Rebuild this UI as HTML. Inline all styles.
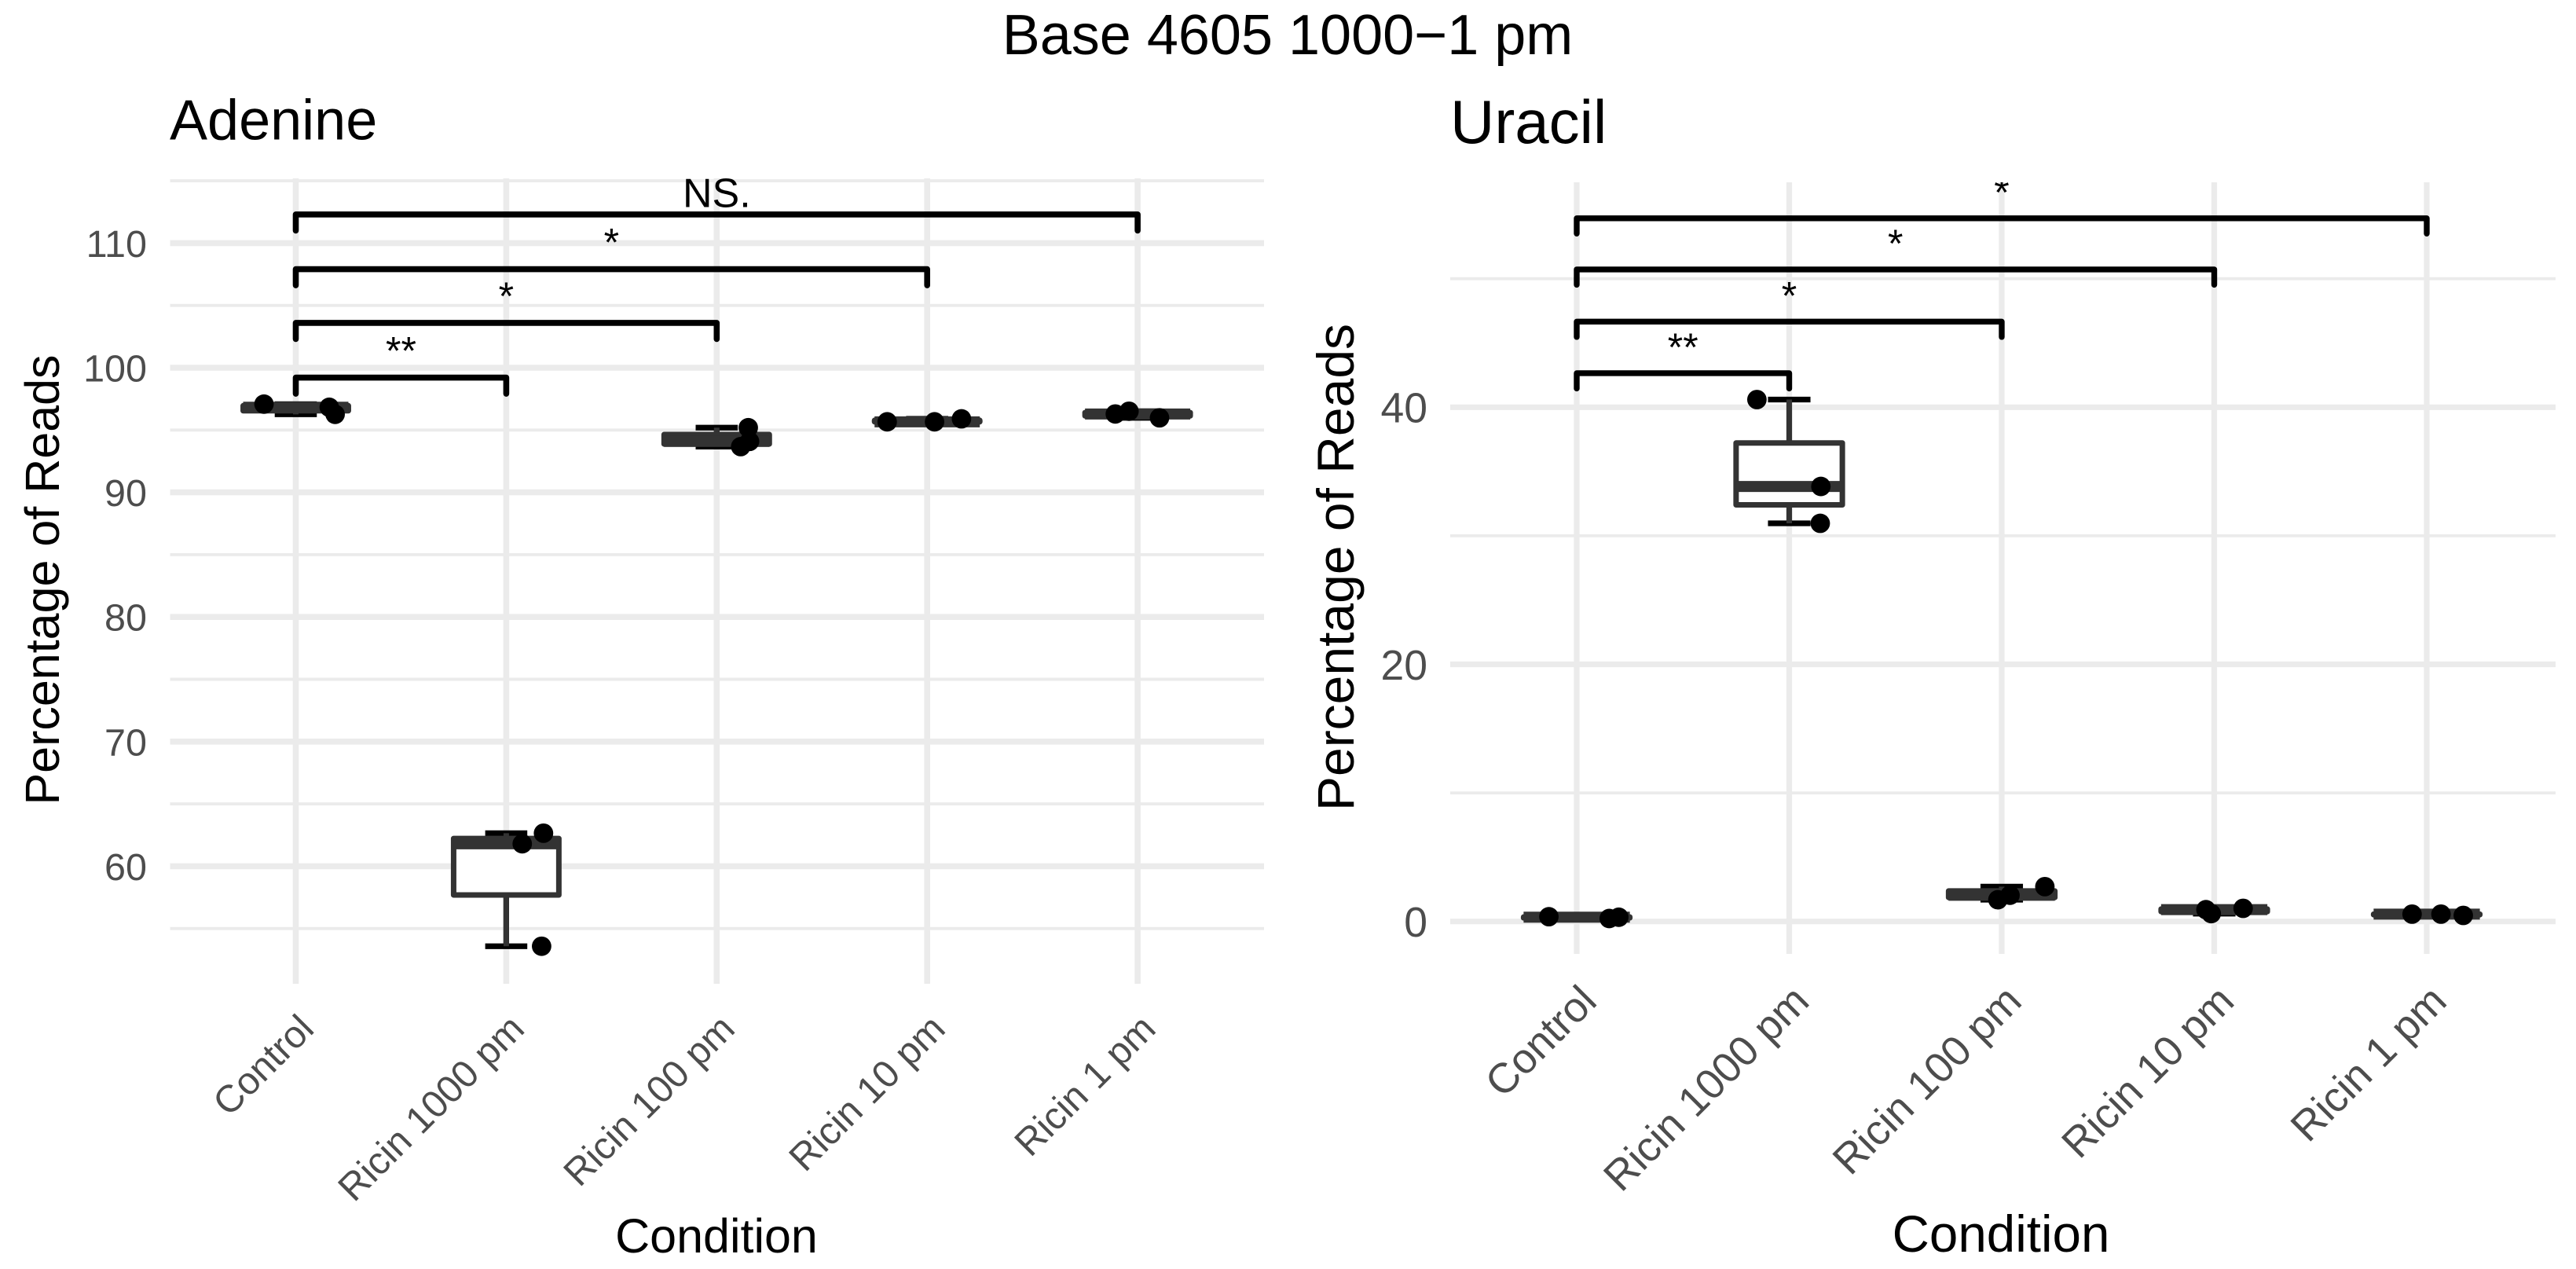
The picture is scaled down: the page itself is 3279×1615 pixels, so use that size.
<!DOCTYPE html>
<html lang="en">
<head>
<meta charset="utf-8">
<title>Base 4605 1000−1 pm</title>
<style>
  html, body { margin: 0; padding: 0; background: #ffffff; }
  svg { display: block; font-family: "Liberation Sans", Arial, sans-serif; }
</style>
</head>
<body>
<svg id="figure" xmlns="http://www.w3.org/2000/svg" width="3279" height="1615" viewBox="0 0 3279 1615">
  <rect width="3279" height="1615" fill="#ffffff"/>
  <defs>
    <clipPath id="clip-adenine"><rect x="216.5" y="227" width="1392.5" height="1025"/></clipPath>
    <clipPath id="clip-uracil"><rect x="1846" y="232" width="1407" height="982"/></clipPath>
  </defs>
  <text x="1639" y="69" font-size="72" text-anchor="middle" fill="#000000">Base 4605 1000−1 pm</text>
  <g id="panel-adenine">
    <text x="216" y="177.5" font-size="72" fill="#000000">Adenine</text>
    <text x="912" y="1594" font-size="61" text-anchor="middle" fill="#000000">Condition</text>
    <text transform="translate(75 738) rotate(-90)" font-size="61" text-anchor="middle" fill="#000000">Percentage of Reads</text>
  </g>
  <g id="panel-uracil">
    <text x="1846" y="182" font-size="78" fill="#000000">Uracil</text>
    <text x="2547" y="1593" font-size="65.5" text-anchor="middle" fill="#000000">Condition</text>
    <text transform="translate(1723 722) rotate(-90)" font-size="66" text-anchor="middle" fill="#000000">Percentage of Reads</text>
  </g>
</svg>
<script>
const categories = ["Control", "Ricin 1000 pm", "Ricin 100 pm", "Ricin 10 pm", "Ricin 1 pm"];

const adenineValues = [
  [97.08, 96.83, 96.26],
  [62.65, 61.80, 53.58],
  [95.19, 94.09, 93.67],
  [95.66, 95.66, 95.90],
  [96.29, 96.51, 95.98]
];
const adenineJitter = [
  [-0.151, 0.159, 0.187],
  [0.177, 0.076, 0.168],
  [0.150, 0.156, 0.114],
  [-0.190, 0.035, 0.163],
  [-0.106, -0.041, 0.104]
];
const adenineMajorTicks = [60, 70, 80, 90, 100, 110];
const adenineMinorTicks = [55, 65, 75, 85, 95, 105, 115];
const adenineBracketLevels = [99.21, 103.6, 107.91, 112.3];
const adenineBracketLabels = ["**", "*", "*", "NS."];

const uracilValues = [
  [0.37, 0.23, 0.33],
  [40.60, 33.84, 30.97],
  [2.71, 2.04, 1.69],
  [0.92, 0.61, 1.02],
  [0.57, 0.57, 0.47]
];
const uracilJitter = [
  [-0.131, 0.153, 0.198],
  [-0.152, 0.149, 0.146],
  [0.203, 0.039, -0.018],
  [-0.039, -0.014, 0.136],
  [-0.069, 0.067, 0.172]
];
const uracilMajorTicks = [0, 20, 40];
const uracilMinorTicks = [10, 30, 50];
const uracilBracketLevels = [42.65, 46.66, 50.72, 54.7];
const uracilBracketLabels = ["**", "*", "*", "*"];

const bracketTargets = [1, 2, 3, 4];

const SVGNS = "http://www.w3.org/2000/svg";

function add(parent, tag, attrs, text) {
  const el = document.createElementNS(SVGNS, tag);
  for (const k in attrs) el.setAttribute(k, attrs[k]);
  if (text !== undefined) el.textContent = text;
  parent.appendChild(el);
  return el;
}

function quantile(values, p) {
  const s = values.slice().sort(function (a, b) { return a - b; });
  const h = (s.length - 1) * p;
  const lo = Math.floor(h);
  const hi = Math.ceil(h);
  return s[lo] + (s[hi] - s[lo]) * (h - lo);
}

function drawPanel(cfg) {
  const root = document.getElementById(cfg.groupId);
  const x = function (c) { return cfg.x0 + cfg.xStep * c; };
  const y = function (v) { return cfg.yRef - (v - cfg.vRef) * cfg.yPerUnit; };

  cfg.minorTicks.forEach(function (t) {
    const el = add(root, "line", { x1: cfg.left, x2: cfg.right, y1: y(t), y2: y(t), stroke: "#ebebeb", "stroke-width": cfg.minorWidth });
    
    
  });
  cfg.majorTicks.forEach(function (t) {
    const el = add(root, "line", { x1: cfg.left, x2: cfg.right, y1: y(t), y2: y(t), stroke: "#ebebeb", "stroke-width": cfg.majorWidth });
    
    
  });
  categories.forEach(function (c, i) {
    const el = add(root, "line", { x1: x(i), x2: x(i), y1: cfg.top, y2: cfg.bottom, stroke: "#ebebeb", "stroke-width": cfg.majorWidth });
    
    
  });

  cfg.majorTicks.forEach(function (t) {
    const el = add(root, "text", { x: cfg.yLabelX, y: y(t) + cfg.tickFont * 0.36, "font-size": cfg.tickFont, "text-anchor": "end", fill: "#4d4d4d" }, String(t));
    
    
  });
  categories.forEach(function (c, i) {
    const el = add(root, "text", { transform: "translate(" + (x(i) + cfg.xLabelDx) + " " + cfg.xLabelY + ") rotate(-45)", "font-size": cfg.tickFont, "text-anchor": "end", fill: "#4d4d4d" }, c);
    
    
  });

  const plot = add(root, "g", { "clip-path": "url(#" + cfg.clipId + ")" });
  
  

  cfg.values.forEach(function (vals, i) {
    const cx = x(i);
    const q1 = quantile(vals, 0.25);
    const med = quantile(vals, 0.5);
    const q3 = quantile(vals, 0.75);
    const lo = Math.min.apply(null, vals);
    const hi = Math.max.apply(null, vals);
    const halfBox = cfg.xStep * 0.25;
    const halfCap = cfg.xStep * 0.1;

    const cap = add(plot, "path", {
      d: "M" + (cx - halfCap) + " " + y(hi) + "H" + (cx + halfCap) +
         "M" + cx + " " + y(hi) + "V" + y(lo) +
         "M" + (cx - halfCap) + " " + y(lo) + "H" + (cx + halfCap),
      fill: "none", stroke: "#000000", "stroke-width": 7.2
    });
    
    

    const whisker = add(plot, "path", {
      d: "M" + cx + " " + y(hi) + "V" + y(q3) + "M" + cx + " " + y(q1) + "V" + y(lo),
      fill: "none", stroke: "#333333", "stroke-width": 7
    });
    
    

    const box = add(plot, "rect", {
      x: cx - halfBox, width: halfBox * 2, y: y(q3), height: Math.max(y(q1) - y(q3), 0.01),
      fill: "#ffffff", stroke: "#333333", "stroke-width": 7, "stroke-linejoin": "round"
    });
    
    

    const median = add(plot, "line", {
      x1: cx - halfBox, x2: cx + halfBox, y1: y(med), y2: y(med),
      stroke: "#333333", "stroke-width": 14
    });
    
    

    vals.forEach(function (v, j) {
      const pt = add(plot, "circle", { cx: x(i + cfg.jitter[i][j]), cy: y(v), r: 12.4, fill: "#000000" });
      
      
    });
  });

  cfg.bracketLevels.forEach(function (level, k) {
    const x1 = x(0);
    const x2 = x(bracketTargets[k]);
    const yb = y(level);
    const tip = yb + cfg.tipLength;
    const br = add(plot, "path", {
      d: "M" + x1 + " " + tip + "V" + yb + "H" + x2 + "V" + tip,
      fill: "none", stroke: "#000000", "stroke-width": cfg.bracketWidth,
      "stroke-linecap": "round", "stroke-linejoin": "round"
    });
    
    

    const isStar = cfg.bracketLabels[k].charAt(0) === "*";
    const lab = add(plot, "text", {
      x: (x1 + x2) / 2, y: yb - (isStar ? cfg.starGap : cfg.textGap), "font-size": isStar ? 50 : 52, "text-anchor": "middle", fill: "#000000"
    }, cfg.bracketLabels[k]);
    
    
  });
}

drawPanel({
  groupId: "panel-adenine", clipId: "clip-adenine",
  values: adenineValues, jitter: adenineJitter,
  majorTicks: adenineMajorTicks, minorTicks: adenineMinorTicks,
  bracketLevels: adenineBracketLevels, bracketLabels: adenineBracketLabels,
  x0: 376.5, xStep: 267.9, yRef: 309.4, vRef: 110, yPerUnit: 15.86,
  left: 216.5, right: 1609, top: 227, bottom: 1252,
  majorWidth: 7.6, minorWidth: 3.9, tickFont: 48.5,
  yLabelX: 187, xLabelDx: 25.5, xLabelY: 1312,
  tipLength: 20.5, bracketWidth: 7.6, starGap: 17, textGap: 9.5
});

drawPanel({
  groupId: "panel-uracil", clipId: "clip-uracil",
  values: uracilValues, jitter: uracilJitter,
  majorTicks: uracilMajorTicks, minorTicks: uracilMinorTicks,
  bracketLevels: uracilBracketLevels, bracketLabels: uracilBracketLabels,
  x0: 2007, xStep: 270.5, yRef: 1172.7, vRef: 0, yPerUnit: 16.36,
  left: 1846, right: 3253, top: 232, bottom: 1214,
  majorWidth: 7.2, minorWidth: 3.8, tickFont: 53.5,
  yLabelX: 1817, xLabelDx: 28, xLabelY: 1277,
  tipLength: 19.5, bracketWidth: 7.4, starGap: 16, textGap: 9.5
});
</script>
</body>
</html>
